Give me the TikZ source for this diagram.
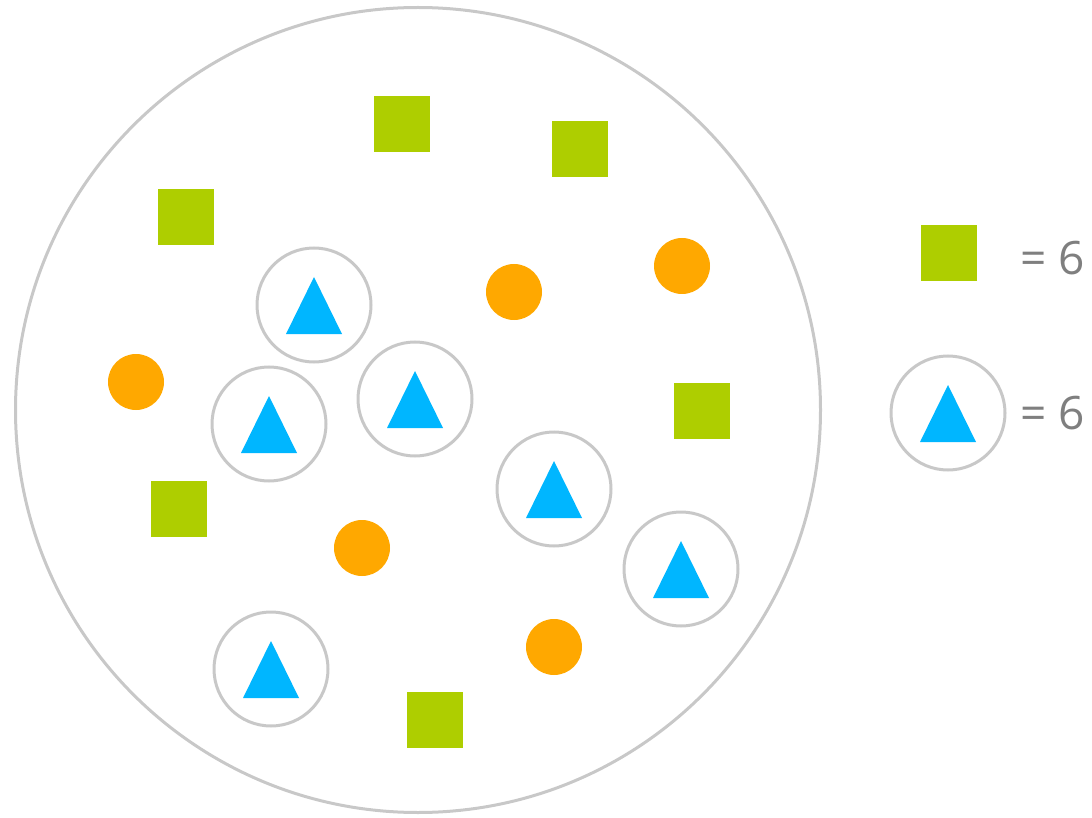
\documentclass[tikz,border=0pt]{standalone}
\usepackage{fontspec}
\setmainfont{Open Sans}
\definecolor{sqgreen}{HTML}{AECE00}
\definecolor{dotorange}{HTML}{FFA800}
\definecolor{triblue}{HTML}{00B6FF}
\definecolor{ringgray}{HTML}{C8C8C8}
\definecolor{textgray}{HTML}{7F7F7F}
\tikzset{
  sq/.style={fill=sqgreen, draw=none, minimum size=56pt, inner sep=0pt, shape=rectangle},
  dot/.style={fill=dotorange, draw=none, circle, minimum size=56pt, inner sep=0pt},
  ring/.style={draw=ringgray, line width=3pt, circle, minimum size=114pt, inner sep=0pt, fill=white},
  lbl/.style={text=textgray, font=\fontsize{46}{46}\selectfont, anchor=west, inner sep=0pt},
  pics/tric/.style={code={
    \node[ring] (-c) at (0,0) {};
    \fill[triblue] (0,-28) -- (28,29) -- (-28,29) -- cycle;
  }}
}
\begin{document}
\begin{tikzpicture}[x=1pt,y=-1pt]
\useasboundingbox (0,0) rectangle (1092,818);
\node[draw=ringgray, line width=3pt, circle, minimum size=805pt, inner sep=0pt] (big) at (418,410) {};
% squares
\node[sq] (s1) at (402,124) {};
\node[sq] (s2) at (580,149) {};
\node[sq] (s3) at (186,217) {};
\node[sq] (s4) at (702,411) {};
\node[sq] (s5) at (179,509) {};
\node[sq] (s6) at (435,720) {};
% orange dots
\node[dot] (o1) at (514,292) {};
\node[dot] (o2) at (682,266) {};
\node[dot] (o3) at (136,382) {};
\node[dot] (o4) at (362,548) {};
\node[dot] (o5) at (554,647) {};
% ringed triangles
\pic (t1) at (314,305) {tric};
\pic (t2) at (269,424) {tric};
\pic (t3) at (415,399) {tric};
\pic (t4) at (554,489) {tric};
\pic (t5) at (681,569) {tric};
\pic (t6) at (271,669) {tric};
% legend
\node[sq] (ls) at (949,253) {};
\pic (lt) at (948,413) {tric};
\node[lbl] (l1) at (1020,258) {= 6};
\node[lbl] (l2) at (1020,413) {= 6};
\end{tikzpicture}
\end{document}
